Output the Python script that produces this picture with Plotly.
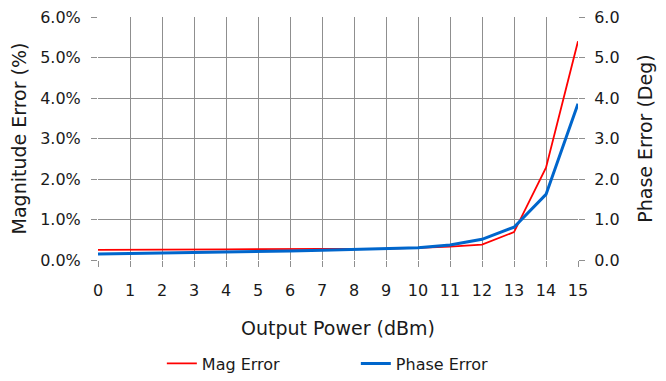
import plotly.graph_objects as go

power_dbm = list(range(0, 16))
mag_error_pct = [0.25, 0.25, 0.26, 0.26, 0.26, 0.27, 0.27, 0.27, 0.28, 0.28,
                 0.30, 0.33, 0.38, 0.69, 2.28, 5.40]
phase_error_deg = [0.15, 0.16, 0.17, 0.18, 0.19, 0.20, 0.22, 0.24, 0.26, 0.28,
                   0.30, 0.37, 0.51, 0.81, 1.62, 3.86]
left_ticks = [0, 1, 2, 3, 4, 5, 6]
left_ticklabels = ["0.0%", "1.0%", "2.0%", "3.0%", "4.0%", "5.0%", "6.0%"]
right_ticklabels = ["0.0", "1.0", "2.0", "3.0", "4.0", "5.0", "6.0"]

FONT = "DejaVu Sans, Liberation Sans, Arial, sans-serif"
GRID = "#8f8f8f"
FS = 16

fig = go.Figure()
fig.add_trace(go.Scatter(x=power_dbm, y=mag_error_pct, mode="lines", name="Mag Error",
                         line=dict(color="#ff0000", width=1.8), yaxis="y"))
fig.add_trace(go.Scatter(x=power_dbm, y=phase_error_deg, mode="lines", name="Phase Error",
                         line=dict(color="#0066cc", width=3), yaxis="y2"))

# the page body adds an 8px offset, so margins are reduced by 8px on the left/top
fig.update_layout(
    width=658, height=381,
    margin=dict(l=90, r=88, t=9, b=121),
    paper_bgcolor="white", plot_bgcolor="white",
    font=dict(family=FONT, size=FS, color="#1a1a1a"),
    xaxis=dict(range=[0, 15], tickmode="array", tickvals=power_dbm,
               showgrid=True, gridcolor=GRID, gridwidth=1.2,
               ticks="outside", ticklen=6, tickcolor=GRID, tickwidth=1.2,
               ticklabelstandoff=10, ticklabeloverflow="allow",
               showline=False, zeroline=False, automargin=False,
               title=dict(text="Output Power (dBm)", standoff=22)),
    yaxis=dict(range=[0, 6], tickmode="array", tickvals=left_ticks, ticktext=left_ticklabels,
               showgrid=True, gridcolor=GRID, gridwidth=1.2,
               ticks="outside", ticklen=6, tickcolor=GRID, tickwidth=1.2,
               ticklabelstandoff=7, ticklabeloverflow="allow",
               showline=False, zeroline=False, automargin=False,
               title=dict(text="Magnitude Error (%)", standoff=13)),
    yaxis2=dict(range=[0, 6], overlaying="y", side="right", tickmode="array",
                tickvals=left_ticks, ticktext=right_ticklabels,
                showgrid=False, ticks="outside", ticklen=6, tickcolor=GRID, tickwidth=1.2,
                ticklabelstandoff=6, ticklabeloverflow="allow",
                showline=False, zeroline=False, automargin=False,
                title=dict(text="Phase Error (Deg)", standoff=20)),
    legend=dict(orientation="h", x=0.133, y=-0.426, xanchor="left", yanchor="middle",
                entrywidth=149, entrywidthmode="pixels", font=dict(size=FS),
                bgcolor="rgba(0,0,0,0)"),
    showlegend=True,
)

fig.write_html("out.html")
